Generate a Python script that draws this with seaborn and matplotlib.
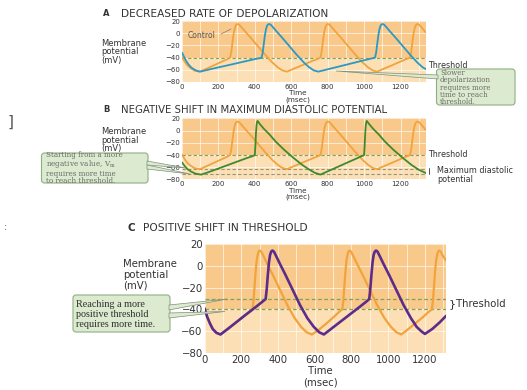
import matplotlib
matplotlib.use("Agg")
import matplotlib.pyplot as plt
from matplotlib.patches import Polygon, FancyBboxPatch
import pandas as pd
import seaborn as sns

sns.set_style("white")
plt.rcParams["font.family"] = ["DejaVu Sans"]
plt.rcParams["mathtext.fontset"] = "dejavuserif"

W, H = 527, 390

# ---------------------------------------------------------------------------
# Data (time in ms, membrane potential in mV)
# ---------------------------------------------------------------------------
ctrl_t = [0, 15, 30, 50, 70, 99, 140, 180, 220, 246, 264, 270, 276, 282, 288, 294, 300, 306,
          314, 326, 346, 376, 416, 456, 496, 526, 551, 576, 620, 670, 720, 745, 760,
          766, 772, 778, 784, 790, 796, 802, 810, 822, 842, 872, 912, 952, 992, 1022, 1047, 1072,
          1110, 1150, 1200, 1235, 1252, 1258, 1264, 1270, 1276, 1282, 1288, 1294,
          1302, 1314, 1334, 1340]
ctrl_v = [-39, -47, -53, -58, -61.5, -63, -57.5, -52, -46.5, -43, -40, -32, -18, -4, 6, 12, 14.5, 15,
          14, 10, 3, -7, -21, -35, -48, -56, -61, -63, -57.5, -51.3, -45, -42, -40,
          -32, -18, -4, 6, 12, 14.5, 15, 14, 10, 3, -7, -21, -35, -48, -56, -61, -63,
          -58, -53, -46.5, -42, -40, -32, -18, -4, 6, 12, 14.5, 15,
          14, 10, 3, 1]

# A: slower depolarization
slow_t = [0, 10, 20, 35, 50, 70, 85, 99, 150, 200, 250, 300, 350, 400, 425, 437,
          443, 449, 455, 461, 467, 473, 479, 487, 499, 519, 549, 589, 629, 669, 699, 724, 749,
          800, 850, 900, 950, 1000, 1040, 1060, 1066, 1072, 1078, 1084, 1090, 1096, 1102,
          1110, 1122, 1142, 1172, 1212, 1252, 1292, 1322, 1340]
slow_v = [-32, -38, -44, -51, -56, -60, -62, -63, -59.5, -56, -52.7, -49.3, -45.9, -42.5, -41, -40,
          -32, -18, -4, 6, 12, 14.5, 15, 14, 10, 3, -7, -21, -35, -48, -56, -61, -63,
          -59.2, -55.5, -51.8, -48.1, -44.4, -41.5, -40, -32, -18, -4, 6, 12, 14.5, 15,
          14, 10, 3, -7, -21, -35, -48, -56, -59]

# B: more negative maximum diastolic potential
mdp_t = [0, 15, 30, 50, 75, 105, 150, 200, 250, 300, 350, 385, 400, 403, 406, 409, 412, 415,
         420, 430, 450, 480, 515, 560, 610, 660, 700, 730, 760, 800, 850, 900, 950, 985, 1000,
         1003, 1006, 1009, 1012, 1015, 1020, 1030, 1050, 1080, 1115, 1160, 1210, 1260, 1300, 1340]
mdp_v = [-52, -58, -63, -67, -70.5, -72, -67.5, -62, -56.5, -51, -45.5, -42, -40, -25, -5, 8, 14, 16,
         14, 10, 3, -6, -18, -31, -44, -56, -64, -69, -72, -66.7, -60, -53.3, -46.7, -42, -40,
         -25, -5, 8, 14, 16, 14, 10, 3, -6, -18, -31, -44, -56, -64, -69.5]

# C: control and more positive threshold
ctrlc_t = [0, 15, 30, 45, 65, 87, 130, 175, 220, 245, 261, 267, 273, 279, 285, 291, 296, 301,
           309, 321, 341, 371, 411, 451, 491, 526, 556, 585, 620, 660, 700, 735, 750,
           756, 762, 768, 774, 780, 785, 790, 798, 810, 830, 860, 900, 940, 980, 1015, 1045, 1072,
           1110, 1150, 1190, 1222, 1238, 1244, 1250, 1256, 1262, 1268, 1273, 1278, 1286, 1298, 1315]
ctrlc_v = [-39, -47, -53, -58, -61.5, -63, -57.5, -51.5, -45.5, -42, -40, -32, -18, -4, 6, 11, 13.5, 14,
           13, 9, 2, -8, -22, -36, -48, -56, -61, -63, -59, -53.5, -47.5, -42, -40,
           -32, -18, -4, 6, 11, 13.5, 14, 13, 9, 2, -8, -22, -36, -48, -56, -61, -63,
           -58, -52.5, -47, -42, -40, -32, -18, -4, 6, 11, 13.5, 14, 13, 9, 5]
thr_t = [0, 15, 30, 45, 65, 87, 130, 175, 220, 261, 300, 320, 333, 339, 345, 351, 357, 363, 370,
         378, 390, 410, 440, 480, 520, 560, 595, 625, 650, 700, 750, 800, 850, 880, 897,
         903, 909, 915, 921, 927, 934, 942, 954, 974, 1004, 1044, 1084, 1124, 1155, 1180, 1200,
         1240, 1280, 1315]
thr_v = [-39, -47, -53, -58, -61.5, -63, -57.5, -51.5, -45.5, -40.2, -35, -32.3, -30.5, -21, -8, 3, 10, 13, 14,
         13, 9, 2, -8, -22, -36, -48, -56, -61, -63, -56.5, -50, -43.5, -37, -33, -30.5,
         -21, -8, 3, 10, 13, 14, 13, 9, 2, -8, -22, -36, -48, -56, -60, -62.5,
         -58, -52, -46]

threshold_a = -40
mdp_levels = [-62, -71]
threshold_c = [-30, -40]

x_ticks = [0, 200, 400, 600, 800, 1000, 1200]
y_ticks = [-80, -60, -40, -20, 0, 20]

ORANGE = "#f2a33c"
BLUE = "#2b99c3"
GREEN = "#3e8a2c"
PURPLE = "#5c2c8a"
BG_HI = "#f8c98b"
BG_LO = "#fcdfb4"
THR = "#7ea35a"
MDP = "#93957c"
BOX_FC = "#dcebcf"
BOX_EC = "#8fae84"
TXT = "#333333"


def fx(x):
    return x / W


def fy(y):
    return 1 - y / H


def setup(ax, xmax, fs):
    ax.set_xlim(0, xmax)
    ax.set_ylim(-80, 20)
    ax.axhspan(-40, 20, color=BG_HI, lw=0, zorder=0)
    ax.axhspan(-80, -40, color=BG_LO, lw=0, zorder=0)
    ax.set_xticks(x_ticks)
    ax.set_xticks(range(100, int(xmax), 100), minor=True)
    ax.set_yticks(y_ticks)
    ax.set_axisbelow(True)
    ax.grid(which="both", color="white", lw=0.6, alpha=0.75)
    ax.tick_params(which="both", length=0, labelsize=fs, pad=1.2, colors=TXT)
    for s in ax.spines.values():
        s.set_visible(False)


def trace(ax, t, v, color, lw):
    df = pd.DataFrame({"t": t, "v": v})
    sns.lineplot(data=df, x="t", y="v", ax=ax, color=color, lw=lw, estimator=None, sort=False)
    ax.set_xlabel("")
    ax.set_ylabel("")


def add_box(fig, x0, y0, x1, y1):
    # pixel coords, y from top
    box = FancyBboxPatch((x0 / 100, (H - y1) / 100), (x1 - x0) / 100, (y1 - y0) / 100,
                         boxstyle="round,pad=0,rounding_size=0.03",
                         transform=fig.dpi_scale_trans, fc=BOX_FC, ec=BOX_EC, lw=0.8, zorder=5)
    fig.add_artist(box)


def add_wedge(fig, pts):
    poly = Polygon([(x / 100, (H - y) / 100) for x, y in pts], closed=True,
                   transform=fig.dpi_scale_trans, fc=BOX_FC, ec="#7f8f7a", lw=0.5, zorder=6)
    fig.add_artist(poly)


fig = plt.figure(figsize=(W / 100, H / 100), dpi=100)
fig.patch.set_facecolor("white")

axA = fig.add_axes([fx(182), fy(82), 244 / W, 61 / H])
axB = fig.add_axes([fx(182), fy(179.5), 244 / W, 61 / H])
axC = fig.add_axes([fx(204.5), fy(353), 241.5 / W, 109 / H])

# ---------------------------------------------------------------------------
# Panel A
# ---------------------------------------------------------------------------
setup(axA, 1340, 5.0)
axA.axhline(threshold_a, color=THR, lw=0.8, ls=(0, (3, 2)), zorder=1)
trace(axA, ctrl_t, ctrl_v, ORANGE, 1.3)
trace(axA, slow_t, slow_v, BLUE, 1.3)

fig.text(fx(103), fy(14), "A", fontsize=6, color=TXT, va="center", fontweight="bold")
fig.text(fx(121), fy(14), "DECREASED RATE OF DEPOLARIZATION", fontsize=7.6, color=TXT,
         va="center")
fig.text(fx(101), fy(52), "Membrane\npotential\n(mV)", fontsize=6, color=TXT, va="center",
         linespacing=0.95)
fig.text(fx(298), fy(96.5), "Time\n(msec)", fontsize=5.2, color=TXT, ha="center", va="center",
         linespacing=1.0)
fig.text(fx(428), fy(66), "Threshold", fontsize=5.8, color=TXT, va="center")
fig.text(fx(188), fy(35.5), "Control", fontsize=5.5, color="#555555", va="center")
fig.add_artist(plt.Line2D([fx(221), fx(231)], [fy(34), fy(29)], color="#8a7a60", lw=0.5))

add_wedge(fig, [(336, 71), (438, 75), (438, 79)])
add_box(fig, 436.5, 69, 515, 105)
fig.text(fx(440), fy(87.5), "Slower\ndepolarization\nrequires more\ntime to reach\nthreshold.",
         fontsize=5, family="DejaVu Serif", color="#6b6b6b", va="center", linespacing=0.86,
         zorder=7)

# ---------------------------------------------------------------------------
# Panel B
# ---------------------------------------------------------------------------
setup(axB, 1340, 5.0)
axB.axhline(threshold_a, color=THR, lw=0.8, ls=(0, (3, 2)), zorder=1)
for lvl in mdp_levels:
    axB.axhline(lvl, color=MDP, lw=0.8, ls=(0, (3, 2)), zorder=1)
trace(axB, ctrl_t, ctrl_v, ORANGE, 1.3)
trace(axB, mdp_t, mdp_v, GREEN, 1.3)

fig.text(fx(103), fy(110), "B", fontsize=6, color=TXT, va="center", fontweight="bold")
fig.text(fx(121), fy(110), "NEGATIVE SHIFT IN MAXIMUM DIASTOLIC POTENTIAL", fontsize=7.3,
         color=TXT, va="center")
fig.text(fx(101), fy(140), "Membrane\npotential\n(mV)", fontsize=6, color=TXT, va="center",
         linespacing=0.95)
fig.text(fx(298), fy(194), "Time\n(msec)", fontsize=5.2, color=TXT, ha="center", va="center",
         linespacing=1.0)
fig.text(fx(428), fy(154.5), "Threshold", fontsize=5.8, color=TXT, va="center")
fig.text(fx(437), fy(175), "Maximum diastolic\npotential", fontsize=5.8, color=TXT, va="center",
         linespacing=1.0)
fig.add_artist(plt.Line2D([fx(429), fx(429)], [fy(168), fy(173.5)], color=TXT, lw=0.6))

add_wedge(fig, [(147, 161), (147, 165), (186, 168)])
add_wedge(fig, [(147, 165), (147, 169), (190, 174)])
add_box(fig, 41.5, 153, 148, 183)
fig.text(fx(46), fy(168),
         "Starting from a more\nnegative value, V$_{\\mathrm{m}}$\nrequires more time\nto reach threshold.",
         fontsize=5.2, family="DejaVu Serif", color="#6b6b6b", va="center", linespacing=0.88,
         zorder=7)

fig.text(fx(8), fy(122), "]", fontsize=11, color="#555555", va="center")

# ---------------------------------------------------------------------------
# Panel C
# ---------------------------------------------------------------------------
setup(axC, 1315, 7.3)
for lvl in threshold_c:
    axC.axhline(lvl, color=THR, lw=0.9, ls=(0, (3, 2)), zorder=1)
trace(axC, ctrlc_t, ctrlc_v, ORANGE, 1.6)
trace(axC, thr_t, thr_v, PURPLE, 1.9)

fig.text(fx(128), fy(228), "C", fontsize=7.5, color=TXT, va="center", fontweight="bold")
fig.text(fx(143), fy(228), "POSITIVE SHIFT IN THRESHOLD", fontsize=7.7, color=TXT, va="center")
fig.text(fx(123), fy(275), "Membrane\npotential\n(mV)", fontsize=7.3, color=TXT, va="center",
         linespacing=1.1)
fig.text(fx(320), fy(377), "Time\n(msec)", fontsize=7.3, color=TXT, ha="center", va="center",
         linespacing=1.2)
fig.text(fx(456), fy(304), "Threshold", fontsize=7.3, color=TXT, va="center")
fig.text(fx(449), fy(304), "}", fontsize=8, color=TXT, va="center")

add_wedge(fig, [(169, 305), (169, 310), (227, 299)])
add_wedge(fig, [(169, 313), (169, 318), (225, 311.5)])
add_box(fig, 73, 295, 170, 332)
fig.text(fx(76.5), fy(314.5), "Reaching a more\npositive threshold\nrequires more time.",
         fontsize=7.3, family="Liberation Serif", color="#2d2d2d", va="center",
         linespacing=1.15, zorder=7)

fig.text(fx(4), fy(227), ":", fontsize=7, color="#555555", va="center")

fig.savefig("out.png", dpi=100)
